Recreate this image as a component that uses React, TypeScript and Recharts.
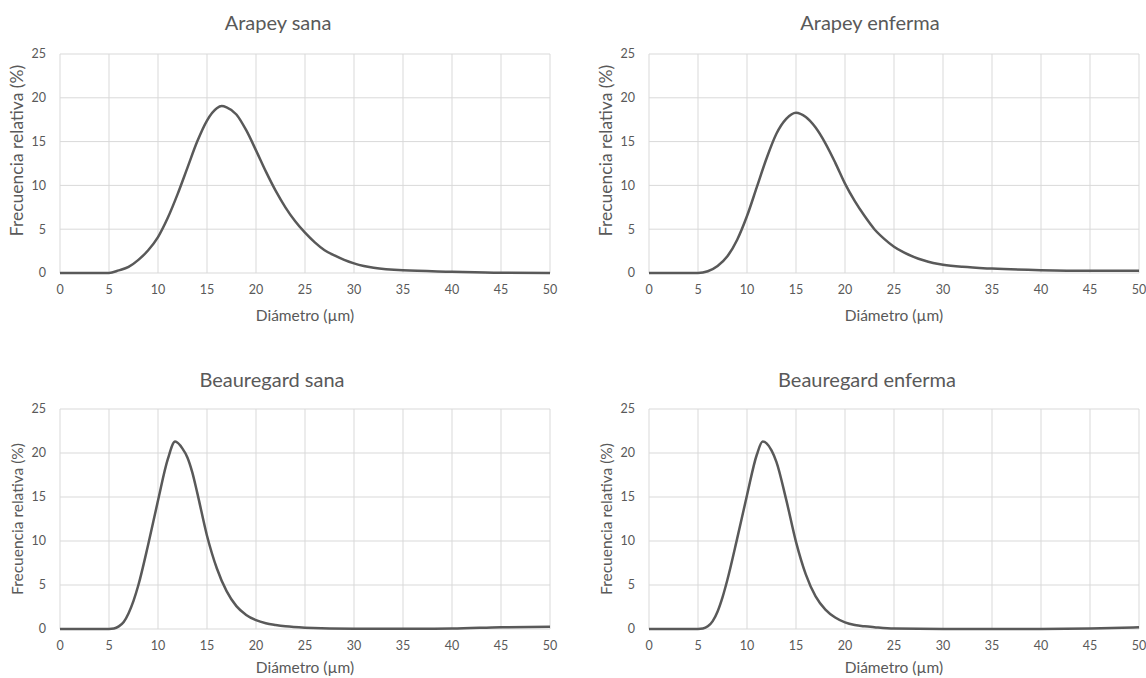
import React from "react";
import { LineChart, Line, XAxis, YAxis, CartesianGrid } from "recharts";

const xTicks = [0, 5, 10, 15, 20, 25, 30, 35, 40, 45, 50];
const yTicks = [0, 5, 10, 15, 20, 25];
const xLabel = "Diámetro (µm)";
const yLabel = "Frecuencia relativa (%)";

const arapeySanaX = [0, 5, 6, 7, 8, 9, 10, 11, 12, 13, 14, 15, 16, 16.5, 17, 18, 19, 20, 21, 22, 23, 24, 25, 26, 27, 28, 29, 30, 31, 32, 35, 40, 45, 50];
const arapeySanaY = [0, 0, 0.3, 0.7, 1.5, 2.6, 4.1, 6.3, 9.0, 12.0, 15.0, 17.4, 18.8, 19.05, 18.9, 18.1, 16.3, 14.0, 11.6, 9.4, 7.5, 5.9, 4.6, 3.5, 2.6, 2.0, 1.5, 1.1, 0.8, 0.6, 0.3, 0.15, 0.03, 0];

const arapeyEnfermaX = [0, 5, 6, 7, 8, 9, 10, 11, 12, 13, 14, 15, 16, 17, 18, 19, 20, 21, 22, 23, 24, 25, 26, 27, 28, 29, 30, 32, 35, 40, 45, 50];
const arapeyEnfermaY = [0, 0, 0.2, 0.8, 1.9, 3.8, 6.5, 9.8, 13.1, 15.9, 17.6, 18.3, 17.8, 16.6, 14.8, 12.6, 10.2, 8.2, 6.5, 5.0, 3.9, 3.0, 2.35, 1.85, 1.45, 1.15, 0.95, 0.7, 0.5, 0.32, 0.25, 0.25];

const beauregardSanaX = [0, 5, 5.5, 6, 6.5, 7, 7.5, 8, 9, 10, 11, 11.75, 12.5, 13, 13.5, 14, 15, 16, 17, 18, 19, 20, 21, 22, 23, 25, 30, 35, 40, 45, 50];
const beauregardSanaY = [0, 0, 0.05, 0.3, 0.8, 1.8, 3.2, 5.0, 9.6, 14.6, 19.3, 21.3, 20.5, 19.5, 17.8, 15.5, 10.6, 6.9, 4.3, 2.6, 1.6, 1.0, 0.65, 0.45, 0.3, 0.15, 0.03, 0.03, 0.05, 0.2, 0.25];

const beauregardEnfermaX = [0, 5, 5.5, 6, 6.5, 7, 7.5, 8, 9, 10, 11, 11.6, 12, 12.5, 13, 14, 15, 16, 17, 18, 19, 20, 21, 22, 23, 25, 30, 35, 40, 45, 50];
const beauregardEnfermaY = [0, 0, 0.05, 0.3, 0.9, 2.0, 3.6, 5.6, 10.3, 15.2, 19.8, 21.3, 21.1, 20.3, 19.0, 14.7, 9.9, 6.2, 3.7, 2.2, 1.3, 0.75, 0.45, 0.3, 0.2, 0.05, 0, 0, 0, 0.05, 0.2];

const FONT = "Lato, 'Open Sans', sans-serif";
const TEXT = "#595959";

type PanelProps = {
  title: string;
  xs: number[];
  ys: number[];
  left: number;
  top: number;
  titleX: number;
  titleY: number;
  marginLeft: number;
  marginRight: number;
  marginTop: number;
  marginBottom: number;
  xAxisHeight: number;
  yTitleSize: number;
  yTitleDy: number;
};

function Panel(p: PanelProps) {
  const data = p.xs.map((x, i) => ({ x, y: p.ys[i] }));
  return (
    <div style={{ position: "absolute", left: p.left, top: p.top, width: 573, height: 339 }}>
      <div
        style={{
          position: "absolute",
          left: p.titleX,
          top: p.titleY,
          transform: "translate(-50%, -50%)",
          fontFamily: FONT,
          fontSize: 20,
          color: TEXT,
          whiteSpace: "nowrap",
        }}
      >
        {p.title}
      </div>
      <LineChart
        width={573}
        height={339}
        data={data}
        margin={{ top: p.marginTop, right: p.marginRight, left: p.marginLeft, bottom: p.marginBottom }}
        style={{ position: "absolute", left: 0, top: 0 }}
      >
        <CartesianGrid stroke="#d9d9d9" strokeWidth={1} />
        <XAxis
          dataKey="x"
          type="number"
          domain={[0, 50]}
          ticks={xTicks}
          interval={0}
          axisLine={false}
          tickLine={false}
          tickSize={0}
          tickMargin={12}
          height={p.xAxisHeight}
          tick={{ fill: TEXT, fontSize: 12.5, fontFamily: FONT }}
          label={{ value: xLabel, position: "insideBottom", offset: 2, fill: TEXT, fontSize: 15.5, fontFamily: FONT }}
        />
        <YAxis
          type="number"
          domain={[0, 25]}
          ticks={yTicks}
          interval={0}
          axisLine={false}
          tickLine={false}
          tickSize={0}
          tickMargin={14}
          width={56}
          tick={{ fill: TEXT, fontSize: 12.5, fontFamily: FONT }}
          label={{
            value: yLabel,
            angle: -90,
            position: "insideLeft",
            offset: 13,
            dy: p.yTitleDy,
            fill: TEXT,
            fontSize: p.yTitleSize,
            fontFamily: FONT,
            style: { textAnchor: "middle" },
          }}
        />
        <Line
          type="monotone"
          dataKey="y"
          stroke="#595959"
          strokeWidth={2.5}
          dot={false}
          isAnimationActive={false}
        />
      </LineChart>
    </div>
  );
}

export default function App() {
  return (
    <div style={{ position: "absolute", left: 0, top: 0, width: 1146, height: 678, background: "#fff", overflow: "hidden" }}>
      <Panel title="Arapey sana" xs={arapeySanaX} ys={arapeySanaY} left={0} top={0} titleX={278} titleY={22}
        marginLeft={4} marginRight={23} marginTop={54} marginBottom={16} xAxisHeight={50} yTitleSize={17.5} yTitleDy={-13} />
      <Panel title="Arapey enferma" xs={arapeyEnfermaX} ys={arapeyEnfermaY} left={573} top={0} titleX={297} titleY={22}
        marginLeft={20} marginRight={7} marginTop={54} marginBottom={16} xAxisHeight={50} yTitleSize={17.5} yTitleDy={-13} />
      <Panel title="Beauregard sana" xs={beauregardSanaX} ys={beauregardSanaY} left={0} top={339} titleX={272} titleY={40}
        marginLeft={4} marginRight={23} marginTop={70} marginBottom={3} xAxisHeight={46} yTitleSize={15.5} yTitleDy={0} />
      <Panel title="Beauregard enferma" xs={beauregardEnfermaX} ys={beauregardEnfermaY} left={573} top={339} titleX={294} titleY={40}
        marginLeft={20} marginRight={7} marginTop={70} marginBottom={3} xAxisHeight={46} yTitleSize={15.5} yTitleDy={0} />
    </div>
  );
}
